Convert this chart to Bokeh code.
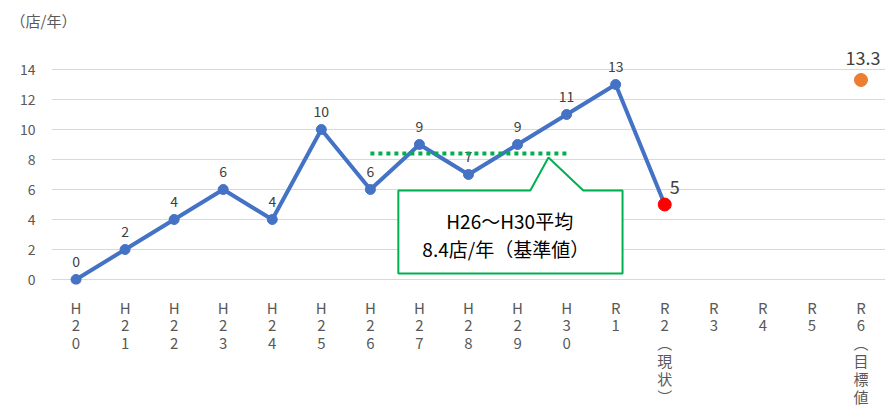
from bokeh.plotting import figure
from bokeh.models import Range1d, FixedTicker, ColumnDataSource
from bokeh.embed import file_html
from bokeh.resources import INLINE
from bokeh.core.properties import value

# ---- data ----
categories = ["H20", "H21", "H22", "H23", "H24", "H25", "H26", "H27", "H28", "H29", "H30",
              "R1", "R2", "R3", "R4", "R5", "R6"]
tick_labels = ["H\n2\n0", "H\n2\n1", "H\n2\n2", "H\n2\n3", "H\n2\n4", "H\n2\n5", "H\n2\n6",
               "H\n2\n7", "H\n2\n8", "H\n2\n9", "H\n3\n0", "R\n1",
               "R\n2\n︵\n現\n状\n︶", "R\n3", "R\n4", "R\n5", "R\n6\n︵\n目\n標\n値\n︶"]
actual_cats = ["H20", "H21", "H22", "H23", "H24", "H25", "H26", "H27", "H28", "H29", "H30", "R1"]
actual_vals = [0, 2, 4, 6, 4, 10, 6, 9, 7, 9, 11, 13]
current_cat = "R2"
current_val = 5
target_cat = "R6"
target_val = 13.3
baseline_cats = ["H26", "H30"]
baseline_val = 8.4
y_ticks = [0, 2, 4, 6, 8, 10, 12, 14]
unit_label = "（店/年）"
callout_lines = ["H26～H30平均", "8.4店/年（基準値）"]

FONT = "Noto Sans CJK JP"
idx = {c: i for i, c in enumerate(categories)}

p = figure(frame_width=834, frame_height=254, output_backend="svg", toolbar_location=None,
           x_range=Range1d(-0.5, len(categories) - 0.5), y_range=Range1d(-0.333, 16.6),
           min_border_left=51, min_border_right=0, min_border_top=30, min_border_bottom=0,
           title=unit_label)
p.outline_line_color = None
p.background_fill_color = "white"
p.border_fill_color = "white"

p.title.align = "left"
p.title.offset = -41
p.title.standoff = 0
p.title.text_font = FONT
p.title.text_font_size = "15px"
p.title.text_font_style = "normal"
p.title.text_color = "#595959"

# axes
p.xaxis.ticker = FixedTicker(ticks=list(range(len(categories))))
p.xaxis.major_label_overrides = {i: t for i, t in enumerate(tick_labels)}
p.xaxis.axis_line_color = None
p.xaxis.major_tick_line_color = None
p.xaxis.minor_tick_line_color = None
p.xaxis.major_label_text_font = FONT
p.xaxis.major_label_text_font_size = "15px"
p.xaxis.major_label_text_color = "#595959"
p.xaxis.major_label_text_line_height = 0.85
p.xaxis.major_label_standoff = 6

p.yaxis.ticker = FixedTicker(ticks=y_ticks)
p.yaxis.axis_line_color = None
p.yaxis.major_tick_line_color = None
p.yaxis.minor_tick_line_color = None
p.yaxis.major_label_text_font = FONT
p.yaxis.major_label_text_font_size = "14px"
p.yaxis.major_label_text_color = "#595959"
p.yaxis.major_label_standoff = 10

p.xgrid.grid_line_color = None
p.ygrid.ticker = FixedTicker(ticks=y_ticks)
p.ygrid.grid_line_color = "#d9d9d9"
p.ygrid.grid_line_width = 1

# main line (actual + current)
line_x = [idx[c] for c in actual_cats] + [idx[current_cat]]
line_y = actual_vals + [current_val]
p.line(line_x, line_y, line_color="#4472C4", line_width=4)
src = ColumnDataSource(dict(x=[idx[c] for c in actual_cats], y=actual_vals,
                            t=[str(v) for v in actual_vals]))
p.scatter("x", "y", source=src, size=10, fill_color="#4472C4", line_color="#4472C4")
p.text("x", "y", text="t", source=src, text_align="center", text_baseline="bottom",
       y_offset=-13, text_font=value(FONT), text_font_size="14px", text_color="#404040")

# baseline dotted
p.line([idx[c] for c in baseline_cats], [baseline_val, baseline_val], line_color="#00B050",
       line_width=4, line_dash="4 4")

# current point
p.scatter([idx[current_cat]], [current_val], size=13, fill_color="#FF0000", line_color="#FF0000")
p.text([idx[current_cat]], [current_val], text=[str(current_val)], x_offset=10, y_offset=-11,
       text_align="center", text_baseline="bottom", text_font=value(FONT),
       text_font_size="18px", text_color="#404040")

# target point
p.scatter([idx[target_cat]], [target_val], size=13, fill_color="#ED7D31", line_color="#ED7D31")
p.text([idx[target_cat]], [target_val], text=[str(target_val)], x_offset=2, y_offset=-15,
       text_align="center", text_baseline="bottom", text_font=value(FONT),
       text_font_size="18px", text_color="#404040")

# callout box (annotation geometry in axis units)
L, R, T, B = 6.57, 11.14, 5.93, 0.4
b1, b2, ax_, ay_ = 9.26, 10.34, 9.63, 8.13
p.patch([L, b1, ax_, b2, R, R, L], [T, T, ay_, T, T, B, B], fill_color="white",
        line_color="#00B050", line_width=2)
p.text([8.84, 8.76], [3.93, 2.07], text=callout_lines,
       text_align="center", text_baseline="middle", text_font=value(FONT),
       text_font_size="19px", text_color="#000000")

html = file_html(p, INLINE)
html = html.replace("<head>", "<head><style>html,body{overflow:hidden;}</style>", 1)
open("out.html", "w").write(html)
